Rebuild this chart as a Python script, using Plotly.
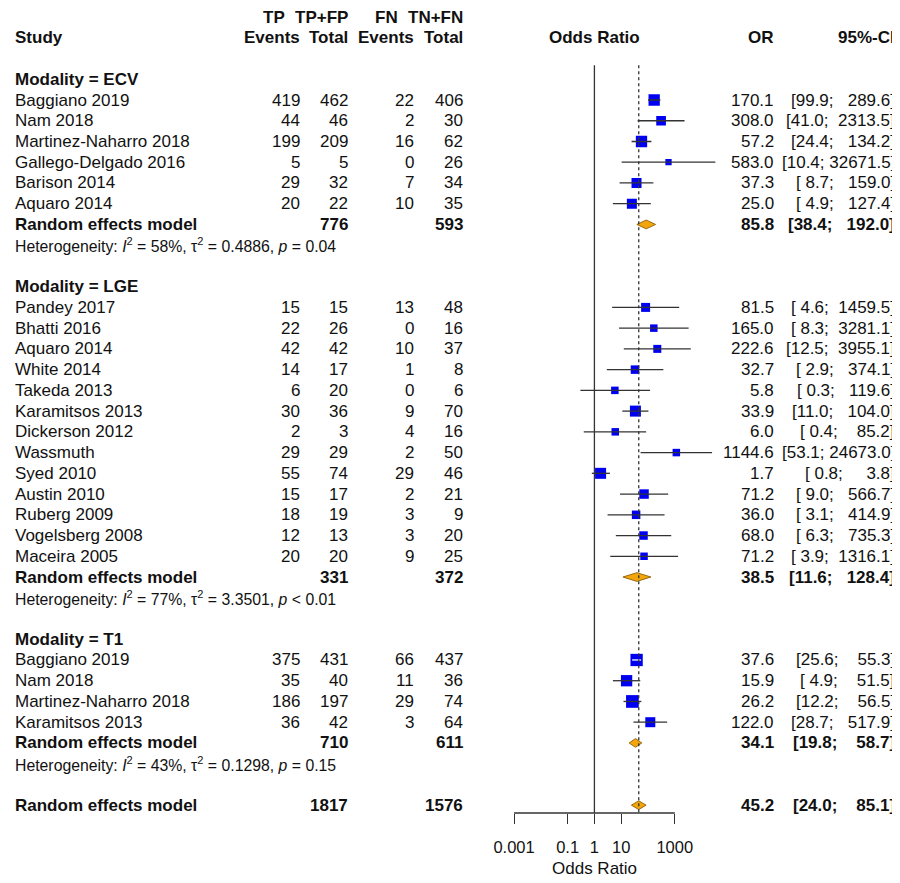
import plotly.graph_objects as go
import numpy as np

# ---------------- data ----------------
ecv_study = ["Baggiano 2019", "Nam 2018", "Martinez-Naharro 2018", "Gallego-Delgado 2016",
             "Barison 2014", "Aquaro 2014"]
ecv_tp = [419, 44, 199, 5, 29, 20]
ecv_n1 = [462, 46, 209, 5, 32, 22]
ecv_fn = [22, 2, 16, 0, 7, 10]
ecv_n2 = [406, 30, 62, 26, 34, 35]
ecv_or = [170.1, 308.0, 57.2, 583.0, 37.3, 25.0]
ecv_lo = [99.9, 41.0, 24.4, 10.4, 8.7, 4.9]
ecv_hi = [289.6, 2313.5, 134.2, 32671.5, 159.0, 127.4]
ecv_w = [26.4, 19.4, 26.4, 8.2, 20.7, 20.7]

lge_study = ["Pandey 2017", "Bhatti 2016", "Aquaro 2014", "White 2014", "Takeda 2013",
             "Karamitsos 2013", "Dickerson 2012", "Wassmuth", "Syed 2010", "Austin 2010",
             "Ruberg 2009", "Vogelsberg 2008", "Maceira 2005"]
lge_tp = [15, 22, 42, 14, 6, 30, 2, 29, 55, 15, 18, 12, 20]
lge_n1 = [15, 26, 42, 17, 20, 36, 3, 29, 74, 17, 19, 13, 20]
lge_fn = [13, 0, 10, 1, 0, 9, 4, 2, 29, 2, 3, 3, 9]
lge_n2 = [48, 16, 37, 8, 6, 70, 16, 50, 46, 21, 9, 20, 25]
lge_or = [81.5, 165.0, 222.6, 32.7, 5.8, 33.9, 6.0, 1144.6, 1.7, 71.2, 36.0, 68.0, 71.2]
lge_lo = [4.6, 8.3, 12.5, 2.9, 0.3, 11.0, 0.4, 53.1, 0.8, 9.0, 3.1, 6.3, 3.9]
lge_hi = [1459.5, 3281.1, 3955.1, 374.1, 119.6, 104.0, 85.2, 24673.0, 3.8, 566.7, 414.9,
          735.3, 1316.1]
lge_w = [16.7, 11.6, 13.2, 14.9, 11.6, 25.0, 11.6, 11.6, 25.0, 18.6, 14.9, 14.9, 11.6]

t1_study = ["Baggiano 2019", "Nam 2018", "Martinez-Naharro 2018", "Karamitsos 2013"]
t1_tp = [375, 35, 186, 36]
t1_n1 = [431, 40, 197, 42]
t1_fn = [66, 11, 29, 3]
t1_n2 = [437, 36, 74, 64]
t1_or = [37.6, 15.9, 26.2, 122.0]
t1_lo = [25.6, 4.9, 12.2, 28.7]
t1_hi = [55.3, 51.5, 56.5, 517.9]
t1_w = [31.3, 26.4, 33.3, 20.7]

# random effects summaries: ECV, LGE, T1, overall
rem_n1 = [776, 331, 710, 1817]
rem_n2 = [593, 372, 611, 1576]
rem_or = [85.8, 38.5, 34.1, 45.2]
rem_lo = [38.4, 11.6, 19.8, 24.0]
rem_hi = [192.0, 128.4, 58.7, 85.1]
het_i2 = [58, 77, 43, 81]
het_tau2 = ["0.4886", "3.3501", "0.1298", "1.4586"]
het_p = ["= 0.04", "< 0.01", "= 0.15", "< 0.01"]

modalities = ["ECV", "LGE", "T1"]
tick_vals = [0.001, 0.1, 1, 10, 1000]
tick_text = ["0.001", "0.1", "1", "10", "1000"]

# ---------------- layout helpers ----------------
OFF = 8                        # default page margin around the plot div
W, H = 900 - OFF, 883 - OFF
ROW0, DY = 100, 20.74          # page y of first study row, row spacing
AX_Y = 813                     # page y of the x axis line
X0, DEC = 592, 27              # page x of OR=1, pixels per decade
LMIN, LMAX = -3.5, 4.8
X_LEFT = 6                     # left column anchor (text lands ~9px further right)

FONT = "Liberation Sans, Arial, sans-serif"
FS, FS_HET = 17, 15.8
BLUE = "#0000f0"
TXT = "#111111"


def px(x):
    return (x - OFF) / W


def py(y):
    return 1 - (y - OFF) / H


def fmt_ci(lo, hi, bold=False):
    s = "[" + f"{lo:.1f}".rjust(4) + "; " + f"{hi:.1f}".rjust(7) + "]"
    s = s.replace(" ", "\u00a0")
    return f"<b>{s}</b>" if bold else s


groups = [
    (ecv_study, ecv_tp, ecv_n1, ecv_fn, ecv_n2, ecv_or, ecv_lo, ecv_hi, ecv_w),
    (lge_study, lge_tp, lge_n1, lge_fn, lge_n2, lge_or, lge_lo, lge_hi, lge_w),
    (t1_study, t1_tp, t1_n1, t1_fn, t1_n2, t1_or, t1_lo, t1_hi, t1_w),
]

fig = go.Figure()
ann = []


def text(x, r, s, anchor="right", size=FS, bold=False):
    if bold:
        s = f"<b>{s}</b>"
    ann.append(dict(x=px(x), xref="paper", y=r, yref="y", text=s, showarrow=False,
                    xanchor=anchor, yanchor="middle",
                    font=dict(family=FONT, size=size, color=TXT)))


def diamond(r, est, lo, hi):
    h = 0.21
    fig.add_trace(go.Scatter(
        x=[lo, est, hi, est, lo], y=[r, r - h, r, r + h, r], mode="lines",
        fill="toself", fillcolor="#f2a60c", line=dict(color="#9a6a10", width=1),
        hoverinfo="skip"))


def rem_row(r, k):
    text(X_LEFT, r, "Random effects model", "left", bold=True)
    text(346, r, str(rem_n1[k]), bold=True)
    text(462, r, str(rem_n2[k]), bold=True)
    text(775, r, f"{rem_or[k]:.1f}", bold=True)
    text(897, r, fmt_ci(rem_lo[k], rem_hi[k], True))
    diamond(r, rem_or[k], rem_lo[k], rem_hi[k])
    het = (f"Heterogeneity: <i>I</i><sup>2</sup> = {het_i2[k]}%, "
           f"\u03c4<sup>2</sup> = {het_tau2[k]}, <i>p</i> {het_p[k]}")
    text(X_LEFT, r + 1, het, "left", size=FS_HET)


# column headers
text(269, -4, "TP", "center", bold=True)
text(346, -4, "TP+FP", bold=True)
text(382, -4, "FN", "center", bold=True)
text(462, -4, "TN+FN", bold=True)
text(X_LEFT, -3, "Study", "left", bold=True)
text(297, -3, "Events", bold=True)
text(346, -3, "Total", bold=True)
text(412, -3, "Events", bold=True)
text(462, -3, "Total", bold=True)
text(X0, -3, "Odds Ratio", "center", bold=True)
text(775, -3, "OR", bold=True)
text(897, -3, "95%-CI", bold=True)

r = -1
for k, (st, tp, n1, fn, n2, orr, lo, hi, w) in enumerate(groups):
    text(X_LEFT, r, f"Modality = {modalities[k]}", "left", bold=True)
    r += 1
    rows = np.arange(r, r + len(st))
    sizes = [2.2 * np.sqrt(v) for v in w]
    fig.add_trace(go.Scatter(x=orr, y=rows, mode="markers",
                             marker=dict(symbol="square", size=sizes, color=BLUE,
                                         opacity=1, line=dict(width=0)),
                             hoverinfo="skip"))
    for i in range(len(st)):
        ri = rows[i]
        width_px = (np.log10(hi[i]) - np.log10(lo[i])) * DEC
        col = "white" if width_px < sizes[i] else "#333333"
        fig.add_trace(go.Scatter(x=[lo[i], hi[i]], y=[ri, ri], mode="lines",
                                 line=dict(color=col, width=1.3), hoverinfo="skip"))
        text(X_LEFT, ri, st[i], "left")
        text(297, ri, str(tp[i]))
        text(346, ri, str(n1[i]))
        text(412, ri, str(fn[i]))
        text(462, ri, str(n2[i]))
        text(775, ri, f"{orr[i]:.1f}")
        text(897, ri, fmt_ci(lo[i], hi[i]))
    r += len(st)
    rem_row(r, k)
    r += 3

rem_row(r, 3)

r_top = (OFF - ROW0) / DY
r_bot = (AX_Y - ROW0) / DY

# reference line at OR = 1 and dotted line at the overall estimate
fig.add_trace(go.Scatter(x=[1, 1], y=[-1.68, r_bot], mode="lines",
                         line=dict(color="#333333", width=1.3), hoverinfo="skip"))
fig.add_trace(go.Scatter(x=[rem_or[3], rem_or[3]], y=[-1.68, r_bot], mode="lines",
                         line=dict(color="#333333", width=1.3, dash="dot"),
                         hoverinfo="skip"))

# axis line from first to last tick
y_dom0 = py(AX_Y)
fig.add_shape(type="line", xref="x", yref="paper",
              x0=tick_vals[0], x1=tick_vals[-1],
              y0=y_dom0, y1=y_dom0, line=dict(color="#333333", width=1.3))

ann.append(dict(x=px(X0), xref="paper", y=py(868), yref="paper", text="Odds Ratio",
                showarrow=False, xanchor="center", yanchor="middle",
                font=dict(family=FONT, size=FS, color=TXT)))

fig.update_layout(
    width=W, height=H, margin=dict(l=0, r=0, t=0, b=0),
    paper_bgcolor="white", plot_bgcolor="white", showlegend=False,
    annotations=ann,
    xaxis=dict(type="log", range=[LMIN, LMAX],
               domain=[px(X0 + DEC * LMIN), px(X0 + DEC * LMAX)],
               showgrid=False, zeroline=False, showline=False,
               tickmode="array", tickvals=tick_vals, ticktext=tick_text,
               ticks="outside", ticklen=10, tickwidth=1.3, tickcolor="#333333",
               ticklabelstandoff=9,
               tickfont=dict(family=FONT, size=16.5, color=TXT)),
    yaxis=dict(range=[r_bot, r_top], domain=[y_dom0, 1], visible=False),
)

fig.write_html("out.html")
